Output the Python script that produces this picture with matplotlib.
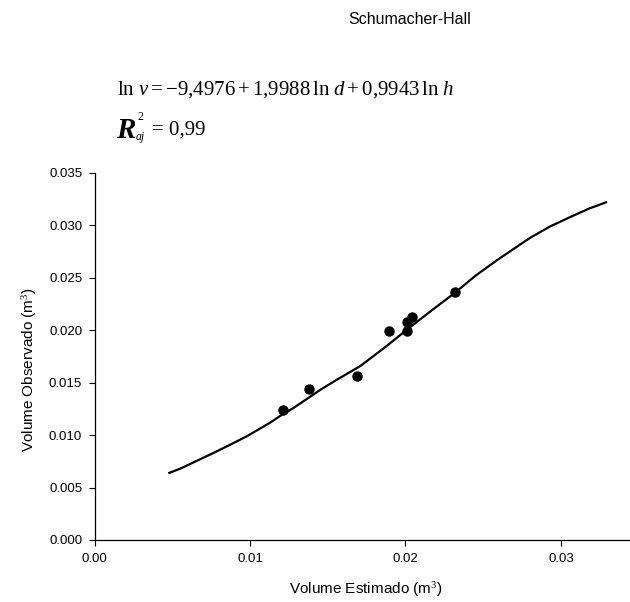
import matplotlib
matplotlib.use("Agg")
import matplotlib.pyplot as plt
from matplotlib.ticker import FormatStrFormatter

# observed data (estimated vs observed volume)
vol_est = [0.01210, 0.01381, 0.01688, 0.01894, 0.02010, 0.02010, 0.02042, 0.02319]
vol_obs = [0.01240, 0.01437, 0.01567, 0.01990, 0.01990, 0.02082, 0.02124, 0.02362]

# fitted curve
curve_x = [0.0048, 0.0055, 0.0065, 0.0075, 0.0086, 0.0098, 0.0113, 0.0119, 0.0128, 0.0137,
           0.0146, 0.0156, 0.0171, 0.0187, 0.0203, 0.0216, 0.0232, 0.0245, 0.0259, 0.0270,
           0.0280, 0.0293, 0.0306, 0.0318, 0.0329]
curve_y = [0.0064, 0.0068, 0.0075, 0.0082, 0.0090, 0.0099, 0.0112, 0.0118, 0.0126, 0.0135,
           0.0144, 0.0153, 0.0166, 0.0184, 0.0203, 0.0218, 0.0236, 0.0252, 0.0267, 0.0278,
           0.0288, 0.0299, 0.0308, 0.0316, 0.0322]

x_ticks = [0.00, 0.01, 0.02, 0.03]
y_ticks = [0.000, 0.005, 0.010, 0.015, 0.020, 0.025, 0.030, 0.035]

title = "Schumacher-Hall"
x_label = "Volume Estimado (m$^3$)"
y_label = "Volume Observado (m$^3$)"

plt.rcParams['font.family'] = ['Liberation Sans', 'DejaVu Sans']
plt.rcParams['mathtext.fontset'] = 'custom'
plt.rcParams['mathtext.rm'] = 'Liberation Serif'
plt.rcParams['mathtext.it'] = 'Liberation Serif:italic'
plt.rcParams['mathtext.bf'] = 'Liberation Serif:bold'

W, H = 630, 602
fig = plt.figure(figsize=(W / 100, H / 100), dpi=100)

def fx(px):
    return px / W

def fy(py):
    return 1 - py / H

left, right, top, bottom = 94.7, 638.6, 173, 540
ax = fig.add_axes([fx(left), fy(bottom), (right - left) / W, (bottom - top) / H])

ax.plot(curve_x, curve_y, color='black', lw=1.6, zorder=2, solid_joinstyle='round')
ax.plot(vol_est, vol_obs, 'o', color='black', markersize=6.5, zorder=3)

ax.set_xlim(0, 0.035)
ax.set_ylim(0, 0.035)
ax.set_xticks(x_ticks)
ax.set_yticks(y_ticks)
ax.xaxis.set_major_formatter(FormatStrFormatter('%.2f'))
ax.yaxis.set_major_formatter(FormatStrFormatter('%.3f'))
ax.tick_params(direction='out', length=4, width=0.8, labelsize=9.5, pad=5, colors='black')
for s in ['top', 'right']:
    ax.spines[s].set_visible(False)
for s in ['left', 'bottom']:
    ax.spines[s].set_linewidth(0.9)
    ax.spines[s].set_color('black')

fig.text(fx(30), fy(370), y_label, rotation=90, ha='center', va='center', fontsize=11)
fig.text(fx(366), fy(590), x_label, ha='center', va='center', fontsize=11)
fig.text(fx(410), fy(20), title, ha='center', va='center', fontsize=11.5)

# equation
fig.text(fx(117), fy(95), r'$\ln\, v = -9{,}4976 + 1{,}9988\,\ln\, d + 0{,}9943\,\ln\, h$',
         ha='left', va='baseline', fontsize=15)
# R^2 adjusted
fig.text(fx(116), fy(138), 'R', family='Liberation Serif', style='italic', weight='bold',
         ha='left', va='baseline', fontsize=21)
fig.text(fx(138), fy(120), '2', family='Liberation Serif', ha='left', va='baseline', fontsize=8.5)
fig.text(fx(135.5), fy(140), 'aj', family='Liberation Serif', style='italic',
         ha='left', va='baseline', fontsize=8.5)
fig.text(fx(152), fy(135), '= 0,99', family='Liberation Serif', ha='left', va='baseline', fontsize=15)

fig.savefig('out.png', dpi=100)
